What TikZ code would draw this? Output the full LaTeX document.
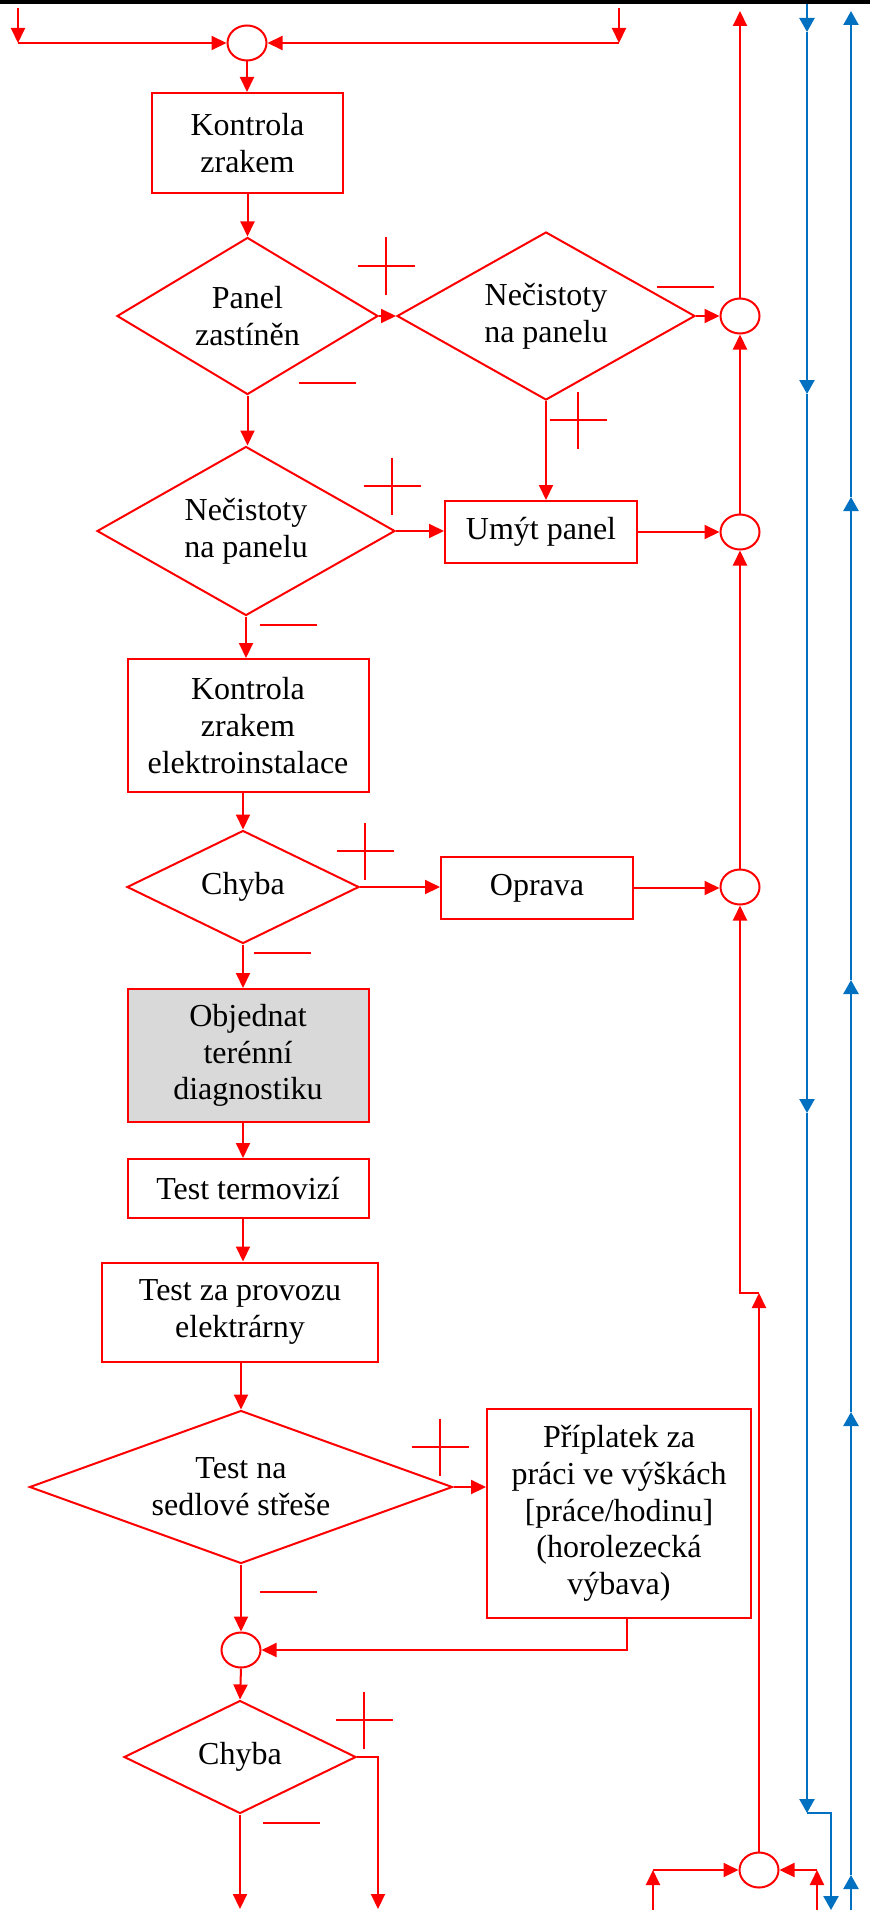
\documentclass[tikz,border=0pt]{standalone}
\usepackage{fontspec}
\setmainfont{Liberation Serif}
\usetikzlibrary{shapes.geometric,arrows.meta,calc}
\definecolor{flowred}{RGB}{255,0,0}
\definecolor{flowblue}{RGB}{0,112,192}
\definecolor{boxgray}{RGB}{217,217,217}

\begin{document}
\begin{tikzpicture}[x=1pt,y=-1pt,
  txt/.style={font=\fontsize{32}{36.8}\selectfont, text=black, align=center},
  proc/.style={txt, draw=flowred, line width=2pt, rectangle, inner sep=0pt},
  decide/.style={txt, draw=flowred, line width=2pt, diamond, inner sep=0pt},
  junction/.style={draw=flowred, line width=2pt, ellipse, minimum width=39pt, minimum height=35pt, inner sep=0pt},
  flow/.style={draw=flowred, line width=2pt, -{Triangle[length=15pt,width=14pt]}},
  bus/.style={draw=flowblue, line width=2.4pt, -{Triangle[length=14pt,width=15pt]}},
  sign/.style={draw=flowred, line width=1.6pt},
  plussign/.pic={\draw[sign] (-28.5,0) -- (28.5,0) (0,-28.5) -- (0,28.5);},
  minussign/.pic={\draw[sign] (-28.5,0) -- (28.5,0);},
]
\useasboundingbox (0,0) rectangle (870,1910);
\fill[white] (0,0) rectangle (870,1910);
\fill[black] (0,0) rectangle (870,4);

% ---- nodes ----
\node[junction] (j0) at (247,43) {};
\node[proc, minimum width=191pt, minimum height=100pt] (k1) at (247.5,143) {Kontrola\\zrakem};
\node[decide, aspect=1.66, minimum width=261pt, minimum height=157pt] (d1) at (247.5,316) {Panel\\zastíněn};
\node[decide, aspect=1.77, minimum width=298pt, minimum height=168pt] (d2) at (546,316) {Nečistoty\\na panelu};
\node[junction] (j1) at (740,316) {};
\node[decide, aspect=1.77, minimum width=298pt, minimum height=169pt] (d3) at (246,531) {Nečistoty\\na panelu};
\node[proc, minimum width=192pt, minimum height=62pt] (p1) at (541,532) {Umýt panel};
\node[junction] (j2) at (740,532) {};
\node[proc, minimum width=241pt, minimum height=133pt] (k2) at (248,725.5) {Kontrola\\zrakem\\elektroinstalace};
\node[decide, aspect=2.05, minimum width=232pt, minimum height=113pt] (d4) at (243,887) {Chyba};
\node[proc, minimum width=192pt, minimum height=62pt] (p2) at (537,888) {Oprava};
\node[junction] (j3) at (740,887) {};
\node[proc, fill=boxgray, minimum width=241pt, minimum height=133pt] (o1) at (248,1055.5) {Objednat\\terénní\\diagnostiku};
\node[proc, minimum width=241pt, minimum height=59pt] (t1) at (248,1188.5) {Test termovizí};
\node[proc, minimum width=276pt, minimum height=99pt] (t2) at (240,1312) {Test za provozu\\elektrárny};
\node[decide, aspect=2.76, minimum width=423pt, minimum height=153pt] (d5) at (241,1487) {Test na\\sedlové střeše};
\node[proc, minimum width=264pt, minimum height=209pt] (p3) at (619,1513.5) {Příplatek za\\práci ve výškách\\{[práce/hodinu]}\\(horolezecká\\výbava)};
\node[junction] (j4) at (241,1650) {};
\node[decide, aspect=2.05, minimum width=232pt, minimum height=113pt] (d6) at (240,1757) {Chyba};
\node[junction] (j5) at (759,1870) {};

% ---- free ends ----
\coordinate (inL0) at (18,8);
\coordinate (inL1) at (18,43);
\coordinate (inR0) at (619,8);
\coordinate (inR1) at (619,43);
\coordinate (outTop) at (740,11);
\coordinate (pb) at (627,1650);
\coordinate (outA) at (240,1909);
\coordinate (cB) at (378,1757);
\coordinate (outB) at (378,1909);
\coordinate (inC0) at (653,1910);
\coordinate (inC1) at (653,1870);
\coordinate (inD0) at (817,1910);
\coordinate (inD1) at (817,1870);
\coordinate (up1) at (759,1293);
\coordinate (up2) at (740,1293);

% ---- red flow ----
\draw[flow] (inL0) -- (inL1);
\draw[flow] (inL1) -- (j0.west);
\draw[flow] (inR0) -- (inR1);
\draw[flow] (inR1) -- (j0.east);
\draw[flow] (j0.south) -- (j0.south |- k1.north);
\draw[flow] (k1.south) -- (k1.south |- d1.north);
\draw[flow] (d1.east) -- (d2.west);
\draw[flow] (d2.east) -- (j1.west);
\draw[flow] (j1.north) -- (outTop);
\draw[flow] (d1.south) -- (d1.south |- d3.north);
\draw[flow] (d2.south) -- (d2.south |- p1.north);
\draw[flow] (d3.east) -- (d3.east -| p1.west);
\draw[flow] (p1.east) -- (j2.west);
\draw[flow] (j2.north) -- (j1.south);
\draw[flow] (j3.north) -- (j2.south);
\draw[flow] (d3.south) -- (d3.south |- k2.north);
\draw[flow] (d4.north |- k2.south) -- (d4.north);
\draw[flow] (d4.east) -- (d4.east -| p2.west);
\draw[flow] (p2.east) -- (p2.east -| j3.west);
\draw[flow] (d4.south) -- (d4.south |- o1.north);
\draw[flow] (d4.south |- o1.south) -- (d4.south |- t1.north);
\draw[flow] (d4.south |- t1.south) -- (d4.south |- t2.north);
\draw[flow] (d5.north |- t2.south) -- (d5.north);
\draw[flow] (d5.east) -- (d5.east -| p3.west);
\draw[flow] (d5.south) -- (j4.north);
\draw[flow] (p3.south -| pb) -- (pb) -- (j4.east);
\draw[flow] (j4.south) -- (d6.north);
\draw[flow] (d6.south) -- (outA);
\draw[flow] (d6.east) -- (cB) -- (outB);
\draw[flow] (inC0) -- (inC1);
\draw[flow] (inC1) -- (j5.west);
\draw[flow] (inD0) -- (inD1);
\draw[flow] (inD1) -- (j5.east);
\draw[flow] (j5.north) -- (up1);
\draw[flow] (up1) -- (up2) -- (j3.south);

% ---- yes / no marks ----
\pic at (386,266) {plussign};
\pic at (578,420) {plussign};
\pic at (392,486) {plussign};
\pic at (365,851) {plussign};
\pic at (440,1447) {plussign};
\pic at (364,1720) {plussign};
\pic at (327.5,383) {minussign};
\pic at (685.5,287) {minussign};
\pic at (288,625) {minussign};
\pic at (282,953) {minussign};
\pic at (288,1592) {minussign};
\pic at (291.5,1823) {minussign};

% ---- blue lines ----
\coordinate (bd0) at (807,4);
\coordinate (bd1) at (807,32);
\coordinate (bd2) at (807,394);
\coordinate (bd3) at (807,1113);
\coordinate (bd4) at (807,1813);
\coordinate (bd5) at (831,1813);
\coordinate (bd6) at (831,1910);
\draw[bus] (bd0) -- (bd1);
\draw[bus] (bd1) -- (bd2);
\draw[bus] (bd2) -- (bd3);
\draw[bus] (bd3) -- (bd4);
\draw[bus] (bd4) -- (bd5) -- (bd6);

\coordinate (bu0) at (851,1910);
\coordinate (bu1) at (851,1875);
\coordinate (bu2) at (851,1412);
\coordinate (bu3) at (851,980);
\coordinate (bu4) at (851,497);
\coordinate (bu5) at (851,11);
\draw[bus] (bu0) -- (bu1);
\draw[bus] (bu1) -- (bu2);
\draw[bus] (bu2) -- (bu3);
\draw[bus] (bu3) -- (bu4);
\draw[bus] (bu4) -- (bu5);
\end{tikzpicture}
\end{document}
